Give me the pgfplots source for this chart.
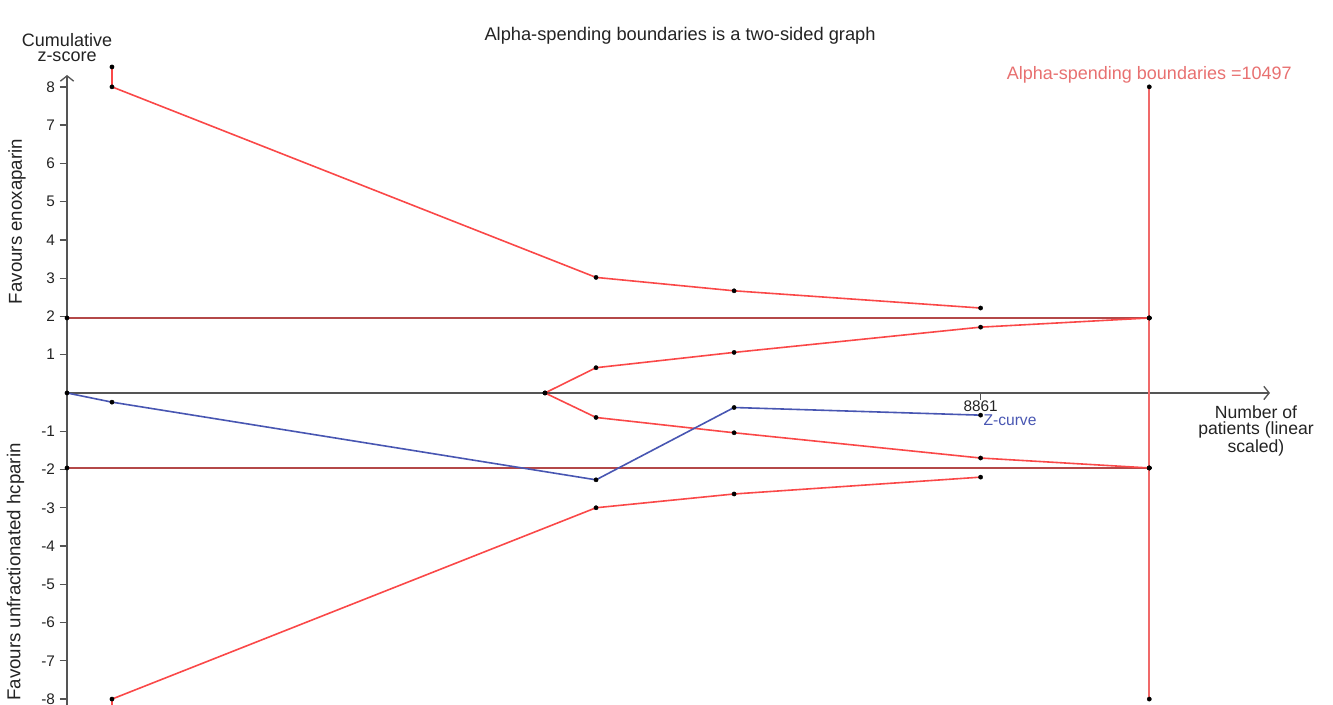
\documentclass[border=0pt]{standalone}
\usepackage{pgfplots}
\pgfplotsset{compat=1.18}
\usepackage{fontspec}
\setmainfont{Liberation Sans}
\usetikzlibrary{arrows.meta}
\definecolor{bnd}{RGB}{250,72,72}
\definecolor{conv}{RGB}{180,72,72}
\definecolor{vline}{RGB}{240,105,105}
\definecolor{zblue}{RGB}{72,86,178}
\definecolor{axgray}{RGB}{85,85,85}
\definecolor{lbl}{RGB}{232,112,112}
\definecolor{txt}{RGB}{35,35,35}
\begin{document}
\begin{tikzpicture}
\begin{axis}[
  x=0.0773pt, y=28.6875pt,
  axis lines=middle,
  xmin=0, xmax=11668, ymin=-8.8, ymax=8.31,
  axis line style={axgray, line width=1.3pt, -{Straight Barb[length=4pt,width=10pt,line width=1pt]}},
  clip=false,
  ytick={-8,-7,-6,-5,-4,-3,-2,-1,1,2,3,4,5,6,7,8},
  xtick={8861},
  scaled x ticks=false,
  /pgf/number format/1000 sep={},
  tick style={axgray, line width=1pt},
  major tick length=5.5pt,
  tick align=outside,
  /pgf/number format/assume math mode=true,
  yticklabel style={font=\fontsize{11.5}{13}\selectfont, text=txt},
  xticklabel style={font=\fontsize{11.5}{13}\selectfont, text=txt, inner sep=0.5pt},
  every axis plot/.append style={line width=1.2pt, mark=*, mark size=1.6pt, mark options={black, fill=black, solid, line width=0.3pt}},
]
% conventional boundaries
\addplot[conv, line width=1.5pt] coordinates {(0,1.96) (10497,1.96)};
\addplot[conv, line width=1.5pt] coordinates {(0,-1.96) (10497,-1.96)};
% alpha-spending boundaries
\addplot[bnd] coordinates {(436,8.52) (436,8) (5131,3.02) (6470,2.67) (8861,2.22)};
\addplot[bnd] coordinates {(436,-8.52) (436,-8) (5131,-3.0) (6470,-2.64) (8861,-2.2)};
% futility (inner wedge)
\addplot[bnd] coordinates {(4636,0) (5131,0.66) (6470,1.06) (8861,1.72) (10497,1.96)};
\addplot[bnd] coordinates {(4636,0) (5131,-0.64) (6470,-1.04) (8861,-1.70) (10497,-1.96)};
% required information size line
\addplot[vline, line width=1.5pt] coordinates {(10497,8) (10497,1.96) (10497,-1.96) (10497,-8)};
% Z-curve
\addplot[zblue] coordinates {(0,0) (436,-0.24) (5131,-2.27) (6470,-0.38) (8861,-0.58)};

\node[font=\fontsize{13.7}{16}\selectfont, text=txt] at (axis cs:5946,9.33) {Alpha-spending boundaries is a two-sided graph};
\node[font=\fontsize{13.5}{16}\selectfont, text=lbl] at (axis cs:10497,8.31) {Alpha-spending boundaries =10497};
\node[font=\fontsize{13.5}{11.25}\selectfont, text=txt, align=center] at (axis cs:0,9.02) {Cumulative\\z-score};
\node[font=\fontsize{13.2}{12}\selectfont, text=txt, align=center] at (axis cs:11532,-0.99) {Number of\\patients (linear\\scaled)};
\node[font=\fontsize{11.7}{13}\selectfont, text=zblue, anchor=west, inner sep=2pt] at (axis cs:8861,-0.7) {Z-curve};
\node[font=\fontsize{14}{16}\selectfont, text=txt, rotate=90] at (axis cs:-485,4.48) {Favours enoxaparin};
\node[font=\fontsize{14}{16}\selectfont, text=txt, rotate=90] at (axis cs:-500,-4.68) {Favours unfractionated hcparin};

\coordinate (bbA) at (axis cs:-650,10.27);
\coordinate (bbB) at (axis cs:12279,-8.13);
\end{axis}
\pgfresetboundingbox
\useasboundingbox (bbA) rectangle (bbB);
\end{tikzpicture}
\end{document}
